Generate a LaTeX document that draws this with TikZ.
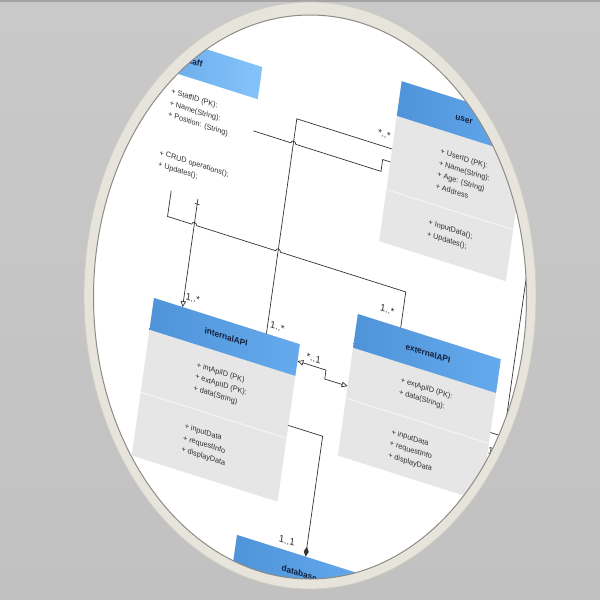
\documentclass[tikz,border=0pt]{standalone}
\usepackage{fontspec}
\setmainfont{Liberation Sans}
\usetikzlibrary{arrows.meta,calc}

\definecolor{bgtop}{HTML}{C9C9C9}
\definecolor{bgbot}{HTML}{C1C1C1}
\definecolor{ringfill}{HTML}{E6E4DB}
\definecolor{ringrim}{HTML}{CFCDC4}
\definecolor{ringedge}{HTML}{8C8B86}
\definecolor{hdrL}{HTML}{4F93D8}
\definecolor{hdrR}{HTML}{66AAEE}
\definecolor{hdrLightL}{HTML}{5FA3E6}
\definecolor{hdrLightR}{HTML}{85C3FA}
\definecolor{bodyfill}{HTML}{E6E6E6}
\definecolor{ink}{HTML}{2E2E2E}
\definecolor{titleink}{HTML}{14213D}
\definecolor{wirecol}{HTML}{333333}

\tikzset{
  classbox/.style={rectangle, draw=none, inner sep=0pt, outer sep=0pt,
    anchor=north west, transform shape},
  hdr/.style={left color=hdrL, right color=hdrR},
  sepline/.style={draw=white!96!black, line width=1pt},
  ttl/.style={font=\fontsize{8.5}{10}\selectfont\bfseries, text=titleink,
    transform shape, inner sep=0pt},
  members/.style={font=\fontsize{7.5}{11.7}\selectfont, text=ink, align=left,
    anchor=west, transform shape, inner sep=0pt},
  mult/.style={font=\fontsize{9.8}{11}\selectfont, text=ink, transform shape,
    inner sep=0pt},
  wire/.style={draw=wirecol, line width=0.7pt},
  openend/.style={-{Triangle[open, length=6pt, width=5.5pt]}},
  openboth/.style={{Triangle[open, length=6pt, width=5.5pt]}-{Triangle[open, length=6pt, width=5.5pt]}},
  diamondend/.style={-{Diamond[length=10pt, width=5pt]}},
}

\begin{document}
\begin{tikzpicture}[x=1pt,y=1pt]
\useasboundingbox (0,0) rectangle (600,-600);

% backdrop and the oval frame
\shade[top color=bgtop, bottom color=bgbot] (0,0) rectangle (600,-600);
\fill[bgbot!85!black] (0,0) rectangle (600,-2);
\fill[ringfill, draw=ringrim, line width=0.8pt] (310,-295.5) ellipse [x radius=226, y radius=293.5];
\fill[white] (310,-297) ellipse [x radius=216.5, y radius=282];

\begin{scope}
\clip (310,-297) ellipse [x radius=216.5, y radius=282];
\begin{scope}[cm={0.953,-0.302,0.14,0.99,(154pt,-298pt)}]

  % ---------- staff ----------
  \shade[left color=hdrLightL, right color=hdrLightR] (-69,256.5) rectangle (76,224);
  \node[classbox, minimum width=145pt, minimum height=147.5pt] (staff) at (-69,256.5) {};
  \node[ttl] (staffT) at (6.5,240.4) {staff};
  \node[members] (staffA) at (-12,193) {+ StaffID (PK):\\+ Name(String):\\+ Position: (String)};
  \node[members] (staffM) at (-15,136) {+ CRUD operations();\\+ Updates();};

  % ---------- user ----------
  \fill[bodyfill] (218,285.5) rectangle (351,124);
  \shade[hdr] (218,285.5) rectangle (351,250.5);
  \draw[sepline] (218,176) -- (351,176);
  \node[classbox, minimum width=133pt, minimum height=161.5pt] (user) at (218,285.5) {};
  \node[ttl] (userT) at (286,267.5) {user};
  \node[members] (userA) at (267,212.4) {+ UserID (PK):\\+ Name(String):\\+ Age: (String)\\+ Address};
  \node[members] (userM) at (265,151) {+ InputData();\\+ Updates();};

  % ---------- internalAPI ----------
  \fill[bodyfill] (0,0) rectangle (153,-159);
  \shade[hdr] (0,0) rectangle (153,-32);
  \draw[sepline] (0,-95) -- (153,-95);
  \node[classbox, minimum width=153pt, minimum height=159pt] (internal) at (0,0) {};
  \node[ttl] (internalT) at (78,-15.5) {internalAPI};
  \node[members] (internalA) at (52.5,-63.7) {+ intApiID (PK)\\+ extApiID (PK):\\+ data(String)};
  \node[members] (internalM) at (49,-126.6) {+ inputData\\+ requestInfo\\+ displayData};

  % ---------- externalAPI ----------
  \fill[bodyfill] (207,47) rectangle (357,-96);
  \shade[hdr] (207,47) rectangle (357,13);
  \draw[sepline] (207,-38) -- (357,-38);
  \node[classbox, minimum width=150pt, minimum height=143pt] (external) at (207,47) {};
  \node[ttl] (externalT) at (283,30.5) {externalAPI};
  \node[members] (externalA) at (259.5,-10.2) {+ extApiID (PK):\\+ data(String):};
  \node[members] (externalM) at (257.5,-68.8) {+ inputData\\+ requestInfo\\+ displayData};

  % ---------- database ----------
  \fill[bodyfill] (117,-203.6) rectangle (257,-343.6);
  \shade[hdr] (117,-203.6) rectangle (257,-237.6);
  \node[classbox, minimum width=140pt, minimum height=140pt] (database) at (117,-203.6) {};
  \node[ttl] (databaseT) at (185,-221.5) {database};

  % ---------- bend points ----------
  \coordinate (a1) at (210,192);
  \coordinate (a2) at (210,204);
  \coordinate (b1) at (118,217);
  \coordinate (c1) at (2,83);
  \coordinate (c2) at (252,83);
  \coordinate (e1) at (183,-17);
  \coordinate (e2) at (183,-26);
  \coordinate (f1) at (189,-82);
  \coordinate (g1) at (371,200);
  \coordinate (g2) at (371,-27);

  % ---------- connectors ----------
  % staff -> user (hops over the vertical line)
  \draw[wire] ($(staff.north east)!0.437!(staff.south east)$) -- (115.5,192)
     arc[start angle=180, end angle=0, radius=2.5] -- (a1) -- (a2)
     -- ($(user.north west)!0.505!(user.south west)$);
  % internalAPI -> user
  \draw[wire] ($(internal.north west)!0.771!(internal.north east)$) -- (b1)
     -- ($(user.north west)!0.424!(user.south west)$);
  % staff -> externalAPI
  \draw[wire] ($(staff.south west)!0.49!(staff.south east)$) -- (c1) -- (27.5,83)
     arc[start angle=180, end angle=0, radius=2.5] -- (115.5,83)
     arc[start angle=180, end angle=0, radius=2.5] -- (c2)
     -- ($(external.north west)!0.3!(external.north east)$);
  % staff -> internalAPI
  \draw[wire, openend] ($(staff.south west)!0.683!(staff.south east)$)
     -- ($(internal.north west)!0.196!(internal.north east)$);
  \draw[wire] (27.6,104) -- (32.4,104);
  % internalAPI <-> externalAPI
  \draw[wire, openboth] ($(internal.north east)!0.107!(internal.south east)$) -- (e1) -- (e2)
     -- ($(external.north west)!0.51!(external.south west)$);
  % internalAPI -> database (composition)
  \draw[wire, diamondend] ($(internal.north east)!0.516!(internal.south east)$) -- (f1)
     -- ($(database.north west)!0.514!(database.north east)$);
  % user -> externalAPI
  \draw[wire] ($(user.north east)!0.53!(user.south east)$) -- (g1) -- (g2)
     -- ($(external.north east)!0.517!(external.south east)$);

  % ---------- multiplicities ----------
  \node[mult] (mAB) at (208,229) {*..*};
  \node[mult] (mD) at (39,11.5) {1..*};
  \node[mult] (mB) at (128,10) {1..*};
  \node[mult] (mC) at (236,60) {1..*};
  \node[mult] (mE) at (169,-9.5) {*..1};
  \node[mult] (mF) at (168,-194) {1..1};
  \node[mult] (mG) at (360,-45) {1};

\end{scope}
\end{scope}

\draw[ringedge, line width=1pt] (310,-297) ellipse [x radius=216.5, y radius=282];
\end{tikzpicture}
\end{document}
